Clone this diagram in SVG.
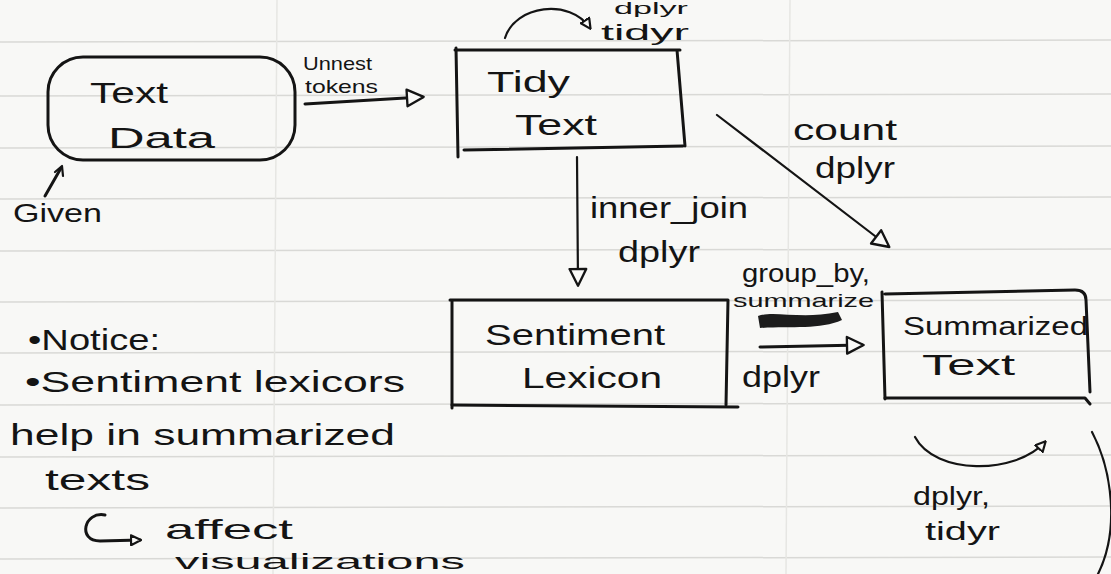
<svg xmlns="http://www.w3.org/2000/svg" width="1111" height="574" viewBox="0 0 1111 574">
<style>
.ink{fill:none;stroke:#141414;stroke-width:3;stroke-linecap:round;stroke-linejoin:round}
.thin{fill:none;stroke:#141414;stroke-width:2.2;stroke-linecap:round;stroke-linejoin:round}
.rule{stroke:#d9d9d6;stroke-width:1.5}
.vrule{stroke:#e6e6e3;stroke-width:1.5}
text{font-family:"Liberation Sans","DejaVu Sans",sans-serif;fill:#141414}
.big{font-size:30px}
.mid{font-size:25px}
.sm{font-size:19px}
</style>
<defs>
<marker id="tri" viewBox="0 0 12 12" refX="10" refY="6" markerWidth="12" markerHeight="12" markerUnits="userSpaceOnUse" orient="auto">
<path d="M1,1 L11,6 L1,11 Z" fill="#fafaf8" stroke="#141414" stroke-width="2.2" stroke-linejoin="round"/>
</marker>
<marker id="tri2" viewBox="0 0 12 12" refX="10" refY="6" markerWidth="20" markerHeight="20" markerUnits="userSpaceOnUse" orient="auto">
<path d="M1,1 L11,6 L1,11 Z" fill="#fafaf8" stroke="#141414" stroke-width="1.4" stroke-linejoin="round"/>
</marker>
</defs>
<rect width="1111" height="574" fill="#f8f8f6"/>
<g id="paper">
<line class="rule" x1="0" y1="42" x2="1111" y2="40"/>
<line class="rule" x1="0" y1="96" x2="1111" y2="94"/>
<line class="rule" x1="0" y1="148" x2="1111" y2="146"/>
<line class="rule" x1="0" y1="199" x2="1111" y2="197"/>
<line class="rule" x1="0" y1="251" x2="1111" y2="249"/>
<line class="rule" x1="0" y1="302" x2="1111" y2="300"/>
<line class="rule" x1="0" y1="353" x2="1111" y2="351"/>
<line class="rule" x1="0" y1="405" x2="1111" y2="403"/>
<line class="rule" x1="0" y1="457" x2="1111" y2="455"/>
<line class="rule" x1="0" y1="508" x2="1111" y2="506"/>
<line class="rule" x1="0" y1="559" x2="1111" y2="557"/>
<line class="vrule" x1="277" y1="0" x2="273" y2="574"/>
<line class="vrule" x1="790" y1="0" x2="786" y2="574"/>
</g>
<g id="connectors">
<path class="thin" d="M505,38 C515,5 570,-2 590,28" marker-end="url(#tri)"/>
<path class="ink" d="M305,104 L422,97" marker-end="url(#tri2)"/>
<path class="ink" d="M45,196 L61,168" stroke-width="2.5"/>
<path class="thin" d="M55,172 L62,166 L63,176"/>
<path class="thin" d="M577,157 L578,284" marker-end="url(#tri2)"/>
<path class="thin" d="M717,115 L888,246" marker-end="url(#tri2)"/>
<path class="ink" d="M760,347 L862,345" marker-end="url(#tri2)"/>
<path class="thin" d="M915,437 C935,475 1015,475 1045,442" marker-end="url(#tri)"/>
<path class="thin" d="M1092,432 C1112,470 1120,530 1098,574"/>
<path class="ink" d="M105,515 C84,511 77,541 100,541 L140,540" marker-end="url(#tri)"/>
</g>
<g id="text-data">
<rect class="ink" x="48" y="57" width="247" height="103" rx="35" ry="35"/>
<text class="big" x="90" y="103" textLength="78" lengthAdjust="spacingAndGlyphs">Text</text>
<text class="big" x="108" y="148" textLength="107" lengthAdjust="spacingAndGlyphs">Data</text>
</g>
<g id="tidy-text">
<path class="ink" d="M455,50 L680,50 M456,48 L458,157 M677,50 L685,146"/>
<path class="ink" d="M464,150 L683,146" stroke-width="4"/>
<text class="big" x="487" y="92" textLength="83" lengthAdjust="spacingAndGlyphs">Tidy</text>
<text class="big" x="515" y="135" textLength="82" lengthAdjust="spacingAndGlyphs">Text</text>
</g>
<g id="sentiment-lexicon">
<path class="ink" d="M450,300 L728,300 M452,300 L452,408 M728,300 L726,405"/>
<path class="ink" d="M452,405 L738,407" stroke-width="4"/>
<text class="big" x="485" y="345" textLength="180" lengthAdjust="spacingAndGlyphs">Sentiment</text>
<text class="big" x="522" y="388" textLength="140" lengthAdjust="spacingAndGlyphs">Lexicon</text>
</g>
<g id="summarized-text">
<path class="ink" d="M885,294 L1075,290 Q1086,290 1086,300 L1090,392 M882,292 L885,399"/>
<path class="ink" d="M885,398 L1085,398 L1090,404" stroke-width="4"/>
<text class="mid" x="903" y="335" textLength="185" lengthAdjust="spacingAndGlyphs">Summarized</text>
<text class="big" x="922" y="375" textLength="93" lengthAdjust="spacingAndGlyphs">Text</text>
</g>
<g id="labels">
<text x="614" y="14" font-size="17" textLength="74" lengthAdjust="spacingAndGlyphs">dplyr</text>
<text x="601" y="40" font-size="22" textLength="88" lengthAdjust="spacingAndGlyphs">tidyr</text>
<text class="sm" x="303" y="70" textLength="69" lengthAdjust="spacingAndGlyphs">Unnest</text>
<text class="sm" x="305" y="93" textLength="73" lengthAdjust="spacingAndGlyphs">tokens</text>
<text class="mid" x="13" y="222" textLength="89" lengthAdjust="spacingAndGlyphs">Given</text>
<text class="big" x="793" y="140" textLength="104" lengthAdjust="spacingAndGlyphs">count</text>
<text class="big" x="815" y="178" textLength="80" lengthAdjust="spacingAndGlyphs">dplyr</text>
<text class="big" x="590" y="218" textLength="158" lengthAdjust="spacingAndGlyphs">inner_join</text>
<text class="big" x="618" y="262" textLength="82" lengthAdjust="spacingAndGlyphs">dplyr</text>
<text class="mid" x="742" y="282" textLength="128" lengthAdjust="spacingAndGlyphs">group_by,</text>
<text class="sm" x="733" y="307" textLength="141" lengthAdjust="spacingAndGlyphs">summarize</text>
<path d="M758,316 C775,310 800,320 838,312 L842,320 C820,330 790,326 760,328 Z" fill="#1c1c1c"/>
<text class="big" x="742" y="387" textLength="78" lengthAdjust="spacingAndGlyphs">dplyr</text>
<text class="mid" x="913" y="505" textLength="77" lengthAdjust="spacingAndGlyphs">dplyr,</text>
<text class="mid" x="925" y="540" textLength="75" lengthAdjust="spacingAndGlyphs">tidyr</text>
</g>
<g id="notes">
<text class="big" x="28" y="350" textLength="132" lengthAdjust="spacingAndGlyphs">•Notice:</text>
<text class="big" x="25" y="392" textLength="380" lengthAdjust="spacingAndGlyphs">•Sentiment lexicors</text>
<text class="big" x="10" y="445" textLength="385" lengthAdjust="spacingAndGlyphs">help in summarized</text>
<text class="big" x="45" y="490" textLength="105" lengthAdjust="spacingAndGlyphs">texts</text>
<text x="165" y="539" font-size="28" textLength="128" lengthAdjust="spacingAndGlyphs">affect</text>
<text x="175" y="569" font-size="22" textLength="290" lengthAdjust="spacingAndGlyphs">visualizations</text>
</g>
</svg>
